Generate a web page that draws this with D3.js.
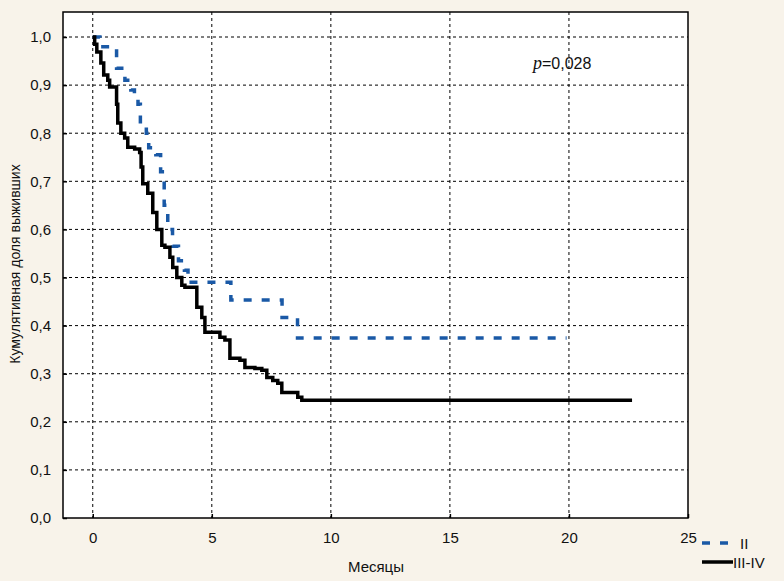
<!DOCTYPE html>
<html lang="ru">
<head>
  <meta charset="UTF-8">
  <title>Kaplan-Meier</title>
  <script src="https://d3js.org/d3.v7.min.js"></script>
  <style>
    body { margin: 0; background: #f8f3ea; }
    text { font-family: "Liberation Sans", Arial, sans-serif; fill: #111; }
    .grid { stroke: #000; stroke-width: 1; stroke-dasharray: 3,3; }
    .tick-label { font-size: 15px; }
  </style>
</head>
<body>
  <svg id="chart" width="784" height="581"></svg>

  <script>
    // stage II: drop times (months) and survival after each drop
    const groupIITimes = [0, 0.3, 1.0, 1.35, 1.6, 1.75, 1.9, 2.0, 2.25, 2.35, 2.65, 2.85, 3.0, 3.15, 3.35, 3.6, 3.85, 4.0, 5.8, 7.95, 8.6, 19.9];
    const groupIISurv  = [1.0, 0.98, 0.935, 0.91, 0.89, 0.875, 0.86, 0.82, 0.80, 0.77, 0.755, 0.72, 0.65, 0.60, 0.565, 0.535, 0.515, 0.49, 0.453, 0.417, 0.374, 0.374];

    // stage III-IV
    const groupIIIIVTimes = [0, 0.08, 0.17, 0.34, 0.46, 0.63, 0.71, 1.0, 1.05, 1.18, 1.34, 1.47, 1.76, 1.97, 2.03, 2.1, 2.31, 2.52, 2.69, 2.9, 3.03, 3.24, 3.36, 3.53, 3.74, 3.87, 4.37, 4.58, 4.71, 5.34, 5.55, 5.76, 6.18, 6.39, 6.81, 7.1, 7.31, 7.56, 7.77, 7.94, 8.61, 8.78, 22.65];
    const groupIIIIVSurv  = [1.0, 0.985, 0.969, 0.946, 0.921, 0.91, 0.896, 0.86, 0.821, 0.80, 0.79, 0.771, 0.767, 0.76, 0.73, 0.695, 0.675, 0.635, 0.60, 0.567, 0.563, 0.542, 0.521, 0.50, 0.484, 0.48, 0.438, 0.417, 0.386, 0.376, 0.37, 0.332, 0.328, 0.313, 0.311, 0.307, 0.292, 0.286, 0.28, 0.261, 0.251, 0.245, 0.245];

    const xTicks = [0, 5, 10, 15, 20, 25];
    const yTicks = [0, 0.1, 0.2, 0.3, 0.4, 0.5, 0.6, 0.7, 0.8, 0.9, 1.0];
    const legendLabels = ["II", "III-IV"];

    const svg = d3.select("#chart");
    const plotLeft = 63, plotRight = 688, plotTop = 12, plotBottom = 518;

    const x = d3.scaleLinear().domain([-1.25, 25]).range([plotLeft, plotRight]);
    const y = d3.scaleLinear().domain([0, 1.052]).range([plotBottom, plotTop]);
    const comma = d => d3.format(".1f")(d).replace(".", ",");

    // plot area
    svg.append("rect")
      .attr("x", plotLeft).attr("y", plotTop)
      .attr("width", plotRight - plotLeft).attr("height", plotBottom - plotTop)
      .attr("fill", "#fff");

    // grid
    svg.selectAll(".gx")
      .data(xTicks.filter(d => d < 25))
      .enter().append("line")
      .attr("class", "grid")
      .attr("x1", d => x(d)).attr("x2", d => x(d))
      .attr("y1", plotTop).attr("y2", plotBottom);

    svg.selectAll(".gy")
      .data(yTicks.filter(d => d > 0))
      .enter().append("line")
      .attr("class", "grid")
      .attr("x1", plotLeft).attr("x2", plotRight)
      .attr("y1", d => y(d)).attr("y2", d => y(d));

    // axes (ticks pointing inwards, labels pushed out)
    const yAxis = svg.append("g")
      .attr("transform", `translate(${plotLeft},0)`)
      .call(d3.axisLeft(y).tickValues(yTicks).tickFormat(comma).tickSize(-4).tickPadding(12));
    const xAxis = svg.append("g")
      .attr("transform", `translate(0,${plotBottom})`)
      .call(d3.axisBottom(x).tickValues(xTicks).tickFormat(d3.format("d")).tickSize(-4).tickPadding(14));
    [yAxis, xAxis].forEach(g => {
      g.select(".domain").remove();
      g.selectAll(".tick line").attr("stroke", "#000").attr("stroke-width", 1.5);
      g.selectAll("text").attr("class", "tick-label").attr("fill", "#111")
        .style("font-family", "'Liberation Sans', Arial, sans-serif");
    });

    // curves
    const line = d3.line()
      .x(d => x(d[0]))
      .y(d => y(d[1]))
      .curve(d3.curveStepAfter);

    svg.append("path")
      .datum(d3.zip(groupIITimes, groupIISurv))
      .attr("d", line)
      .attr("fill", "none")
      .attr("stroke", "#1a59a6")
      .attr("stroke-width", 3.5)
      .attr("stroke-dasharray", "8,10");

    svg.append("path")
      .datum(d3.zip(groupIIIIVTimes, groupIIIIVSurv))
      .attr("d", line)
      .attr("fill", "none")
      .attr("stroke", "#000")
      .attr("stroke-width", 3.5);

    // frame
    svg.append("rect")
      .attr("x", plotLeft).attr("y", plotTop)
      .attr("width", plotRight - plotLeft).attr("height", plotBottom - plotTop)
      .attr("fill", "none").attr("stroke", "#000").attr("stroke-width", 1.5);

    // p-value
    const p = svg.append("text")
      .attr("x", 533).attr("y", 69)
      .style("font-size", "16px");
    p.append("tspan").text("p")
      .style("font-family", "'Liberation Serif', 'Times New Roman', serif")
      .style("font-style", "italic").style("font-size", "18px");
    p.append("tspan").text("=0,028");

    // axis titles
    svg.append("text")
      .attr("transform", "translate(20,264) rotate(-90)")
      .attr("text-anchor", "middle")
      .style("font-size", "14px")
      .text("Кумулятивная доля выживших");

    svg.append("text")
      .attr("x", 376).attr("y", 572)
      .attr("text-anchor", "middle")
      .style("font-size", "15px")
      .text("Месяцы");

    // legend
    const legend = svg.append("g");
    legend.append("line")
      .attr("x1", 702).attr("x2", 730).attr("y1", 543).attr("y2", 543)
      .attr("stroke", "#1a59a6").attr("stroke-width", 3.5).attr("stroke-dasharray", "8,10");
    legend.append("line")
      .attr("x1", 702).attr("x2", 733).attr("y1", 562).attr("y2", 562)
      .attr("stroke", "#000").attr("stroke-width", 3.5);
    legend.selectAll("text")
      .data(legendLabels)
      .enter().append("text")
      .attr("x", (d, i) => i === 0 ? 740 : 733)
      .attr("y", (d, i) => i === 0 ? 549 : 568)
      .style("font-size", "15px")
      .text(d => d);
  </script>
</body>
</html>
